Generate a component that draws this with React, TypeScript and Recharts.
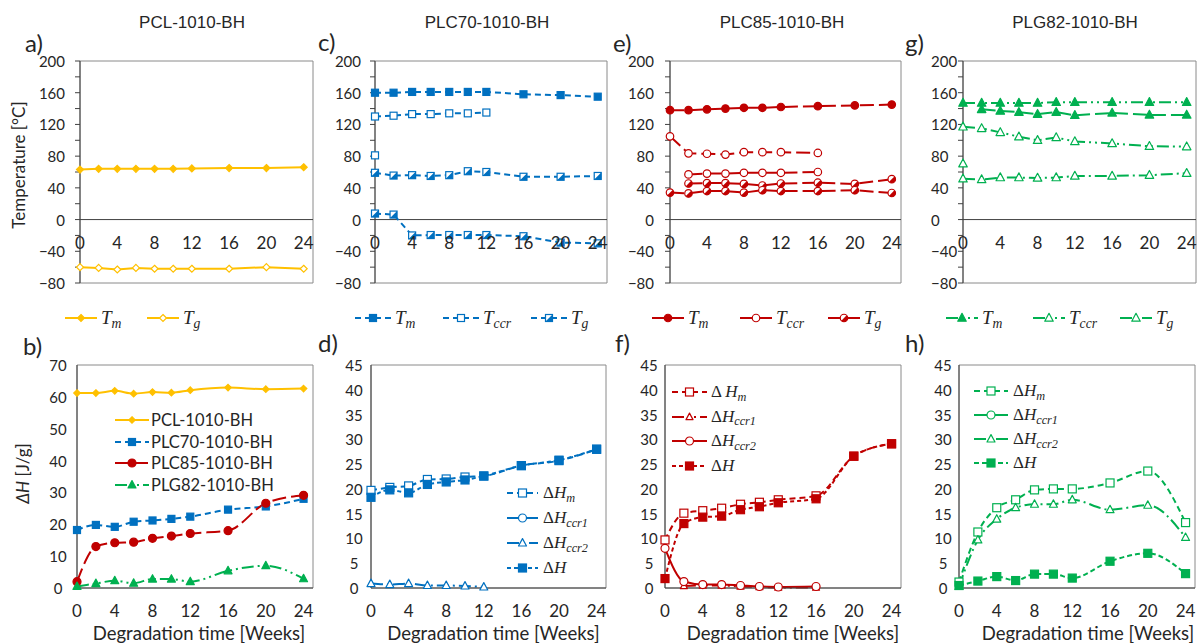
import React from 'react';
import { LineChart, Line, XAxis, YAxis, ReferenceLine, ReferenceArea, Legend } from 'recharts';

// x positions (weeks) shared by every panel
const weeks = [0, 2, 4, 6, 8, 10, 12, 16, 20, 24];
const weekTicks = [0, 4, 8, 12, 16, 20, 24];
const tempTicks = [-80, -60, -40, -20, 0, 20, 40, 60, 80, 100, 120, 140, 160, 180, 200];
const heatTicksB = [0, 10, 20, 30, 40, 50, 60, 70];
const heatTicks = [0, 5, 10, 15, 20, 25, 30, 35, 40, 45];

// a) PCL-1010-BH temperatures
const pclTm = [63, 64, 64, 64, 64, 64, 64.5, 65, 65, 66];
const pclTg = [-60, -61, -63, -61, -62, -62, -62, -62, -60, -62];

// c) PLC70-1010-BH temperatures
const plc70Tm = [160, 160, 161, 161, 161, 161, 161, 158, 157, 155];
const plc70Tccr = [130, 131, 133, 133, 134, 134, 135, null, null, null];
const plc70TccrStart = [81, null, null, null, null, null, null, null, null, null];
const plc70TgHigh = [59, 55.5, 56, 55, 56, 61, 60, 54, 54, 55];
const plc70TgLow = [7.6, 6.3, -20, -19.5, -19.5, -19.5, -19.5, -21, -29, -30];

// e) PLC85-1010-BH temperatures
const plc85Tm = [138, 138, 139, 140, 141, 141, 142, 143, 144, 145];
const plc85TccrHigh = [105, 83.5, 83, 82, 85, 85, 85, 84, null, null];
const plc85TccrLow = [null, 57, 58, 58, 59, 59, 59, 60, null, null];
const plc85TgHigh = [null, 45.5, 46, 46, 45, 43, 45.5, 46.5, 45, 51];
const plc85TgLow = [34, 33, 36, 36, 34, 37, 36, 36, 37, 33.5];

// g) PLG82-1010-BH temperatures
const plg82TmHigh = [147, 147, 147, 147, 147, 148, 148, 148, 148, 148];
const plg82TmLow = [null, 139, 137, 135.5, 133, 135.5, 131.5, 134.5, 132, 132];
const plg82Tccr = [117, 115, 110, 104.5, 100, 103.5, 98.5, 96, 92.5, 92];
const plg82TccrStart = [70.5, null, null, null, null, null, null, null, null, null];
const plg82Tg = [51.5, 50.5, 53, 53, 52.5, 53, 55, 55, 56, 58.5];

// b) total enthalpy, all materials
const pclDH = [61.2, 61.2, 61.9, 61, 61.5, 61.3, 62.1, 62.9, 62.4, 62.6];
const plc70DH = [18.2, 19.8, 19.2, 20.8, 21.2, 21.7, 22.4, 24.6, 25.6, 28];
const plc85DH = [2, 13, 14.2, 14.4, 15.6, 16.3, 17.1, 18, 26.6, 29.1];
const plg82DH = [0.5, 1.4, 2.3, 1.5, 2.8, 2.8, 2, 5.4, 7, 2.9];

// d) PLC70 enthalpies
const plc70DHm = [19.7, 20.3, 20.6, 21.9, 22, 22.4, 22.6, 24.7, 25.7, 28];
const plc70DHccr1 = [null, null, null, null, null, null, null, null, null, null];
const plc70DHccr2 = [0.9, 0.7, 0.9, 0.5, 0.5, 0.4, 0.2, null, null, null];
const plc70DHtotal = [18.3, 19.8, 19.2, 20.9, 21.4, 21.8, 22.6, 24.7, 25.8, 28];

// f) PLC85 enthalpies
const plc85DHm = [9.7, 15.1, 15.6, 16.1, 16.9, 17.3, 17.8, 18.6, 26.6, 29.1];
const plc85DHccr1 = [null, 0.4, 0.5, 0.5, 0.3, 0.2, 0.1, 0.1, null, null];
const plc85DHccr2 = [8, 1.3, 0.7, 0.7, 0.5, 0.3, 0.2, 0.3, null, null];
const plc85DHtotal = [1.9, 13, 14.3, 14.5, 15.8, 16.4, 17.2, 18, 26.6, 29.1];

// h) PLG82 enthalpies
const plg82DHm = [1.2, 11.3, 16.2, 17.8, 19.8, 20, 20, 21.2, 23.6, 13.2];
const plg82DHccr1 = [null, null, null, null, null, null, null, null, null, null];
const plg82DHccr2 = [0.3, 9.7, 13.9, 16.2, 16.9, 16.9, 17.8, 15.8, 16.7, 10.2];
const plg82DHtotal = [0.5, 1.4, 2.3, 1.5, 2.8, 2.8, 2, 5.4, 7, 2.9];

const titles = ['PCL-1010-BH', 'PLC70-1010-BH', 'PLC85-1010-BH', 'PLG82-1010-BH'];
const titleX = [192, 487, 782, 1075];
const letters = ['a)', 'c)', 'e)', 'g)', 'b)', 'd)', 'f)', 'h)'];
const letterPos = [[25, 43], [318, 42], [613, 43], [905, 43], [23, 346], [318, 343], [615, 343], [905, 343]];

const YELLOW = '#FFC000';
const BLUE = '#0070C0';
const RED = '#C00000';
const GREEN = '#00B050';
const AXIS = '#404040';
const FRAME = '#8a8a8a';
const TEXT = '#262626';

type Shape = 'diamond' | 'square' | 'circle' | 'triangle';
type Fill = 'solid' | 'open' | 'half';

interface SeriesDef {
  key: string;
  label?: string;
  values: (number | null)[];
  color: string;
  dash?: string;
  shape: Shape;
  fill: Fill;
  size: number;
}

interface LegendDef {
  x: number;
  y: number; // centre of first row
  layout: 'row' | 'column';
  itemWidth?: number;
  rowHeight: number;
  swatch: number;
  gap: number;
  fontSize: number;
  math: boolean;
}

interface PanelDef {
  left: number;
  top: number;
  w: number;
  h: number;
  yDomain: [number, number];
  yTicks: number[];
  major: number;
  midAxis: boolean;
  minorTicks: boolean;
  smooth: boolean;
  bottom: number;
  tickAnchor: 'start' | 'middle' | 'end';
  tickOffset: number;
  yLabel?: 'temp' | 'heat';
  yLabelX?: number;
  yLabelDy?: number;
  xLabelDx?: number;
  legend: LegendDef;
  series: SeriesDef[];
}

const YW = 75;
const MT = 10;
const MR = 10;
const XH = 30;

const DASH_BLUE = '6 4';
const DASH_RED = '14 5';
const DASH_DDOT = '12 4 2 4 2 4';
const DASH_DOT = '12 4 2 4';
const DASH_SHORT = '4 3';

const topLegend = (x: number, itemWidth: number, swatch: number): LegendDef => ({
  x, y: 318, layout: 'row', itemWidth, rowHeight: 24, swatch, gap: 4, fontSize: 19, math: true,
});

const panels: PanelDef[] = [
  {
    left: 80, top: 61, w: 233, h: 222, yDomain: [-80, 200], yTicks: tempTicks, major: 40,
    midAxis: true, minorTicks: true, smooth: false, bottom: 30, tickAnchor: 'end', tickOffset: 20,
    yLabel: 'temp', yLabelX: 18, yLabelDy: -7,
    legend: topLegend(65, 82, 32),
    series: [
      { key: 'tm', label: 'T_m', values: pclTm, color: YELLOW, shape: 'diamond', fill: 'solid', size: 7 },
      { key: 'tg', label: 'T_g', values: pclTg, color: YELLOW, shape: 'diamond', fill: 'open', size: 7 },
    ],
  },
  {
    left: 375, top: 61, w: 232, h: 222, yDomain: [-80, 200], yTicks: tempTicks, major: 40,
    midAxis: true, minorTicks: true, smooth: false, bottom: 30, tickAnchor: 'end', tickOffset: 19,
    legend: topLegend(355, 88, 36),
    series: [
      { key: 'tm', label: 'T_m', values: plc70Tm, color: BLUE, dash: DASH_BLUE, shape: 'square', fill: 'solid', size: 7 },
      { key: 'tccr', label: 'T_ccr', values: plc70Tccr, color: BLUE, dash: DASH_BLUE, shape: 'square', fill: 'open', size: 7 },
      { key: 'tccr0', values: plc70TccrStart, color: BLUE, dash: DASH_BLUE, shape: 'square', fill: 'open', size: 7 },
      { key: 'tg1', label: 'T_g', values: plc70TgHigh, color: BLUE, dash: DASH_BLUE, shape: 'square', fill: 'half', size: 7 },
      { key: 'tg2', values: plc70TgLow, color: BLUE, dash: DASH_BLUE, shape: 'square', fill: 'half', size: 7 },
    ],
  },
  {
    left: 670, top: 61, w: 231, h: 222, yDomain: [-80, 200], yTicks: tempTicks, major: 40,
    midAxis: true, minorTicks: true, smooth: false, bottom: 30, tickAnchor: 'end', tickOffset: 21,
    legend: topLegend(652, 88, 32),
    series: [
      { key: 'tm', label: 'T_m', values: plc85Tm, color: RED, dash: DASH_RED, shape: 'circle', fill: 'solid', size: 7.5 },
      { key: 'tccr1', label: 'T_ccr', values: plc85TccrHigh, color: RED, dash: DASH_RED, shape: 'circle', fill: 'open', size: 7.5 },
      { key: 'tccr2', values: plc85TccrLow, color: RED, dash: DASH_RED, shape: 'circle', fill: 'open', size: 7.5 },
      { key: 'tg1', label: 'T_g', values: plc85TgHigh, color: RED, dash: DASH_RED, shape: 'circle', fill: 'half', size: 7.5 },
      { key: 'tg2', values: plc85TgLow, color: RED, dash: DASH_RED, shape: 'circle', fill: 'half', size: 7.5 },
    ],
  },
  {
    left: 963, top: 61, w: 233, h: 222, yDomain: [-80, 200], yTicks: tempTicks, major: 40,
    midAxis: true, minorTicks: true, smooth: false, bottom: 30, tickAnchor: 'start', tickOffset: 37,
    legend: topLegend(946, 87, 32),
    series: [
      { key: 'tm1', label: 'T_m', values: plg82TmHigh, color: GREEN, dash: DASH_DDOT, shape: 'triangle', fill: 'solid', size: 8.5 },
      { key: 'tm2', values: plg82TmLow, color: GREEN, dash: DASH_RED, shape: 'triangle', fill: 'solid', size: 8.5 },
      { key: 'tccr', label: 'T_ccr', values: plg82Tccr, color: GREEN, dash: DASH_DDOT, shape: 'triangle', fill: 'open', size: 8.5 },
      { key: 'tccr0', values: plg82TccrStart, color: GREEN, dash: DASH_DDOT, shape: 'triangle', fill: 'open', size: 8.5 },
      { key: 'tg', label: 'T_g', values: plg82Tg, color: GREEN, dash: DASH_DOT, shape: 'triangle', fill: 'open', size: 8.5 },
    ],
  },
  {
    left: 77, top: 365, w: 236, h: 223, yDomain: [0, 70], yTicks: heatTicksB, major: 10,
    midAxis: false, minorTicks: false, smooth: true, bottom: 25, tickAnchor: 'middle', tickOffset: 24,
    yLabel: 'heat', yLabelX: 22, yLabelDy: -3, xLabelDx: 4,
    legend: { x: 115, y: 420, layout: 'column', rowHeight: 21.5, swatch: 34, gap: 2, fontSize: 16.5, math: false },
    series: [
      { key: 'pcl', label: 'PCL-1010-BH', values: pclDH, color: YELLOW, shape: 'diamond', fill: 'solid', size: 6.5 },
      { key: 'plc70', label: 'PLC70-1010-BH', values: plc70DH, color: BLUE, dash: DASH_BLUE, shape: 'square', fill: 'solid', size: 7 },
      { key: 'plc85', label: 'PLC85-1010-BH', values: plc85DH, color: RED, dash: DASH_RED, shape: 'circle', fill: 'solid', size: 8 },
      { key: 'plg82', label: 'PLG82-1010-BH', values: plg82DH, color: GREEN, dash: DASH_DDOT, shape: 'triangle', fill: 'solid', size: 8 },
    ],
  },
  {
    left: 371, top: 365, w: 235, h: 223, yDomain: [0, 45], yTicks: heatTicks, major: 5,
    midAxis: false, minorTicks: false, smooth: true, bottom: 25, tickAnchor: 'middle', tickOffset: 22,
    xLabelDx: 5,
    legend: { x: 507, y: 493, layout: 'column', rowHeight: 25, swatch: 31, gap: 5, fontSize: 17, math: true },
    series: [
      { key: 'dhm', label: 'ΔH_m', values: plc70DHm, color: BLUE, dash: DASH_BLUE, shape: 'square', fill: 'open', size: 8 },
      { key: 'dhccr1', label: 'ΔH_ccr1', values: plc70DHccr1, color: BLUE, shape: 'circle', fill: 'open', size: 8 },
      { key: 'dhccr2', label: 'ΔH_ccr2', values: plc70DHccr2, color: BLUE, dash: DASH_DOT, shape: 'triangle', fill: 'open', size: 8 },
      { key: 'dh', label: 'ΔH', values: plc70DHtotal, color: BLUE, dash: DASH_SHORT, shape: 'square', fill: 'solid', size: 8 },
    ],
  },
  {
    left: 665, top: 365, w: 236, h: 223, yDomain: [0, 45], yTicks: heatTicks, major: 5,
    midAxis: false, minorTicks: false, smooth: true, bottom: 25, tickAnchor: 'middle', tickOffset: 21,
    xLabelDx: 10,
    legend: { x: 672, y: 392, layout: 'column', rowHeight: 24.5, swatch: 35, gap: 4, fontSize: 17, math: true },
    series: [
      { key: 'dhm', label: 'Δ H_m', values: plc85DHm, color: RED, dash: DASH_BLUE, shape: 'square', fill: 'open', size: 8 },
      { key: 'dhccr1', label: 'ΔH_ccr1', values: plc85DHccr1, color: RED, dash: DASH_DDOT, shape: 'triangle', fill: 'open', size: 7 },
      { key: 'dhccr2', label: 'ΔH_ccr2', values: plc85DHccr2, color: RED, shape: 'circle', fill: 'open', size: 8 },
      { key: 'dh', label: 'ΔH', values: plc85DHtotal, color: RED, dash: DASH_SHORT, shape: 'square', fill: 'solid', size: 8 },
    ],
  },
  {
    left: 959, top: 365, w: 236, h: 223, yDomain: [0, 45], yTicks: heatTicks, major: 5,
    midAxis: false, minorTicks: false, smooth: true, bottom: 25, tickAnchor: 'middle', tickOffset: 21,
    xLabelDx: 11,
    legend: { x: 974, y: 391, layout: 'column', rowHeight: 24, swatch: 34, gap: 5, fontSize: 17, math: true },
    series: [
      { key: 'dhm', label: 'ΔH_m', values: plg82DHm, color: GREEN, dash: DASH_BLUE, shape: 'square', fill: 'open', size: 8 },
      { key: 'dhccr1', label: 'ΔH_ccr1', values: plg82DHccr1, color: GREEN, shape: 'circle', fill: 'open', size: 8 },
      { key: 'dhccr2', label: 'ΔH_ccr2', values: plg82DHccr2, color: GREEN, dash: DASH_DOT, shape: 'triangle', fill: 'open', size: 8 },
      { key: 'dh', label: 'ΔH', values: plg82DHtotal, color: GREEN, dash: '5 3', shape: 'square', fill: 'solid', size: 8 },
    ],
  },
];

function Marker({ cx, cy, shape, fill, color, size }: { cx: number; cy: number; shape: Shape; fill: Fill; color: string; size: number }) {
  const r = size / 2;
  const face = fill === 'solid' ? color : '#ffffff';
  const sw = 1.2;
  if (shape === 'square') {
    return (
      <g>
        <rect x={cx - r} y={cy - r} width={size} height={size} fill={face} stroke={color} strokeWidth={sw} />
        {fill === 'half' && <path d={`M${cx - r},${cy + r}L${cx + r},${cy - r}L${cx + r},${cy + r}Z`} fill={color} />}
      </g>
    );
  }
  if (shape === 'circle') {
    const d = r / Math.SQRT2;
    return (
      <g>
        <circle cx={cx} cy={cy} r={r} fill={face} stroke={color} strokeWidth={sw} />
        {fill === 'half' && <path d={`M${cx - d},${cy + d}A${r},${r} 0 0 0 ${cx + d},${cy - d}Z`} fill={color} />}
      </g>
    );
  }
  if (shape === 'diamond') {
    return (
      <polygon points={`${cx},${cy - r} ${cx + r},${cy} ${cx},${cy + r} ${cx - r},${cy}`}
        fill={face} stroke={color} strokeWidth={sw} />
    );
  }
  return (
    <polygon points={`${cx},${cy - r * 1.1} ${cx + r},${cy + r * 0.75} ${cx - r},${cy + r * 0.75}`}
      fill={face} stroke={color} strokeWidth={sw} strokeLinejoin="round" />
  );
}

const dotFor = (s: SeriesDef) => (props: any) => {
  const { cx, cy, index, value } = props;
  const k = `${s.key}-${index}`;
  if (value == null || cx == null || cy == null || Number.isNaN(cy)) return <g key={k} />;
  return (
    <g key={k}>
      <Marker cx={cx} cy={cy} shape={s.shape} fill={s.fill} color={s.color} size={s.size} />
    </g>
  );
};

function MathLabel({ text, size }: { text: string; size: number }) {
  const [main, sub] = text.split('_');
  const base = main.slice(-1);
  const lead = main.slice(0, -1);
  return (
    <span style={{ fontFamily: '"Liberation Serif", "DejaVu Serif", serif', fontSize: size, whiteSpace: 'nowrap', color: TEXT, lineHeight: 1 }}>
      {lead}
      <i>{base}</i>
      {sub && <i style={{ fontSize: size * 0.72, position: 'relative', top: size * 0.22 }}>{sub}</i>}
    </span>
  );
}

function Swatch({ s, width }: { s: SeriesDef; width: number }) {
  return (
    <svg width={width} height={18} style={{ display: 'block', overflow: 'visible', flex: 'none' }}>
      <line x1={0} y1={9} x2={width} y2={9} stroke={s.color} strokeWidth={2} strokeDasharray={s.dash} />
      <Marker cx={width / 2} cy={9} shape={s.shape} fill={s.fill} color={s.color} size={s.size} />
    </svg>
  );
}

function LegendBox({ def, series }: { def: LegendDef; series: SeriesDef[] }) {
  const items = series.filter((s) => s.label);
  const label = (s: SeriesDef) =>
    def.math ? (
      <MathLabel text={s.label as string} size={def.fontSize} />
    ) : (
      <span style={{ fontFamily: 'Lato, sans-serif', fontSize: def.fontSize, color: TEXT, whiteSpace: 'nowrap' }}>{s.label}</span>
    );
  return (
    <div style={{ display: def.layout === 'row' ? 'flex' : 'block' }}>
      {items.map((s) => (
        <div key={s.key} style={{ width: def.itemWidth, height: def.rowHeight, display: 'flex', alignItems: 'center' }}>
          <Swatch s={s} width={def.swatch} />
          <div style={{ marginLeft: def.gap }}>{label(s)}</div>
        </div>
      ))}
    </div>
  );
}

function Panel({ p }: { p: PanelDef }) {
  const rows = weeks.map((w, i) => {
    const r: Record<string, number | null> = { w };
    p.series.forEach((s) => {
      r[s.key] = s.values[i];
    });
    return r;
  });
  const chartLeft = p.left - YW;
  const chartTop = p.top - MT;
  const width = YW + p.w + MR;
  const height = MT + p.h + XH + p.bottom;
  const [ymin, ymax] = p.yDomain;
  const zeroShift = p.midAxis ? (p.h * (0 - ymin)) / (ymax - ymin) : 0;
  const font = 'Lato, sans-serif';

  const xTick = (tp: any) => (
    <text x={tp.x} y={tp.y - zeroShift + 29} textAnchor="middle" fontSize={17} fontFamily={font} fill={TEXT}>
      {tp.payload.value}
    </text>
  );
  const yTick = (tp: any) => {
    const v = tp.payload.value as number;
    if (v % p.major !== 0) return <g />;
    return (
      <text x={tp.x + 5 - p.tickOffset + 5} y={tp.y} textAnchor={p.tickAnchor} dominantBaseline="central"
        fontSize={15} fontFamily={font} fill={TEXT}>
        {v < 0 ? `\u2212${Math.abs(v)}` : v}
      </text>
    );
  };
  const yLabel = (lp: any) => {
    const vb = lp.viewBox;
    const cx = (p.yLabelX as number) - chartLeft;
    const cy = vb.y + vb.height / 2 + (p.yLabelDy || 0);
    return (
      <text x={cx} y={cy} transform={`rotate(-90 ${cx} ${cy})`} textAnchor="middle" dominantBaseline="central"
        fontSize={17} fontFamily={font} fill={TEXT}>
        {p.yLabel === 'temp' ? 'Temperature [°C]' : (
          <>
            <tspan fontStyle="italic">ΔH</tspan>
            <tspan> [J/g]</tspan>
          </>
        )}
      </text>
    );
  };
  const xLabel = (lp: any) => {
    const vb = lp.viewBox;
    return (
      <text x={vb.x + vb.width / 2 + (p.xLabelDx || 0)} y={vb.y + 52} textAnchor="middle"
        fontSize={18.5} fontFamily={font} fill={TEXT}>
        Degradation time [Weeks]
      </text>
    );
  };

  return (
    <div style={{ position: 'absolute', left: chartLeft, top: chartTop }}>
      <LineChart width={width} height={height} data={rows} margin={{ top: MT, right: MR, left: 0, bottom: p.bottom }}>
        <XAxis dataKey="w" type="number" domain={[0, 25]} ticks={weekTicks} interval={0} height={XH}
          axisLine={p.midAxis ? false : { stroke: AXIS }} tickLine={false} tickSize={0} tickMargin={0}
          tick={xTick} label={p.midAxis ? undefined : xLabel} />
        <YAxis type="number" domain={p.yDomain} ticks={p.yTicks} interval={0} width={YW}
          axisLine={{ stroke: AXIS }} tickLine={p.minorTicks ? { stroke: AXIS } : false} tickSize={5} tickMargin={0}
          tick={yTick} label={p.yLabel ? yLabel : undefined} />
        <ReferenceArea x1={0} x2={25} y1={ymin} y2={ymax} fill="none" stroke={FRAME} strokeWidth={1} ifOverflow="visible" />
        {p.midAxis && <ReferenceLine y={0} stroke={AXIS} strokeWidth={1} />}
        {p.series.map((s) => (
          <Line key={s.key} dataKey={s.key} type={p.smooth ? 'monotone' : 'linear'} stroke={s.color} strokeWidth={2}
            strokeDasharray={s.dash} dot={dotFor(s)} activeDot={false} connectNulls={false} isAnimationActive={false} />
        ))}
        <Legend layout="vertical" align="center" verticalAlign="middle"
          wrapperStyle={{ left: p.legend.x - chartLeft, top: p.legend.y - p.legend.rowHeight / 2 - chartTop, width: 'auto', height: 'auto' }}
          content={() => <LegendBox def={p.legend} series={p.series} />} />
      </LineChart>
    </div>
  );
}

export default function App() {
  return (
    <div style={{ position: 'absolute', left: 0, top: 0, width: 1198, height: 644, background: '#fff', overflow: 'hidden' }}>
      {titles.map((t, i) => (
        <div key={t} style={{ position: 'absolute', left: titleX[i] - 100, top: 13, width: 200, textAlign: 'center',
          fontFamily: '"Liberation Sans", Arial, sans-serif', fontSize: 17, lineHeight: '20px', color: TEXT }}>
          {t}
        </div>
      ))}
      {letters.map((t, i) => (
        <div key={t} style={{ position: 'absolute', left: letterPos[i][0], top: letterPos[i][1] - 13, fontFamily: 'Lato, sans-serif',
          fontSize: 24, lineHeight: '26px', color: TEXT }}>
          {t}
        </div>
      ))}
      {panels.map((p, i) => (
        <Panel key={i} p={p} />
      ))}
    </div>
  );
}
